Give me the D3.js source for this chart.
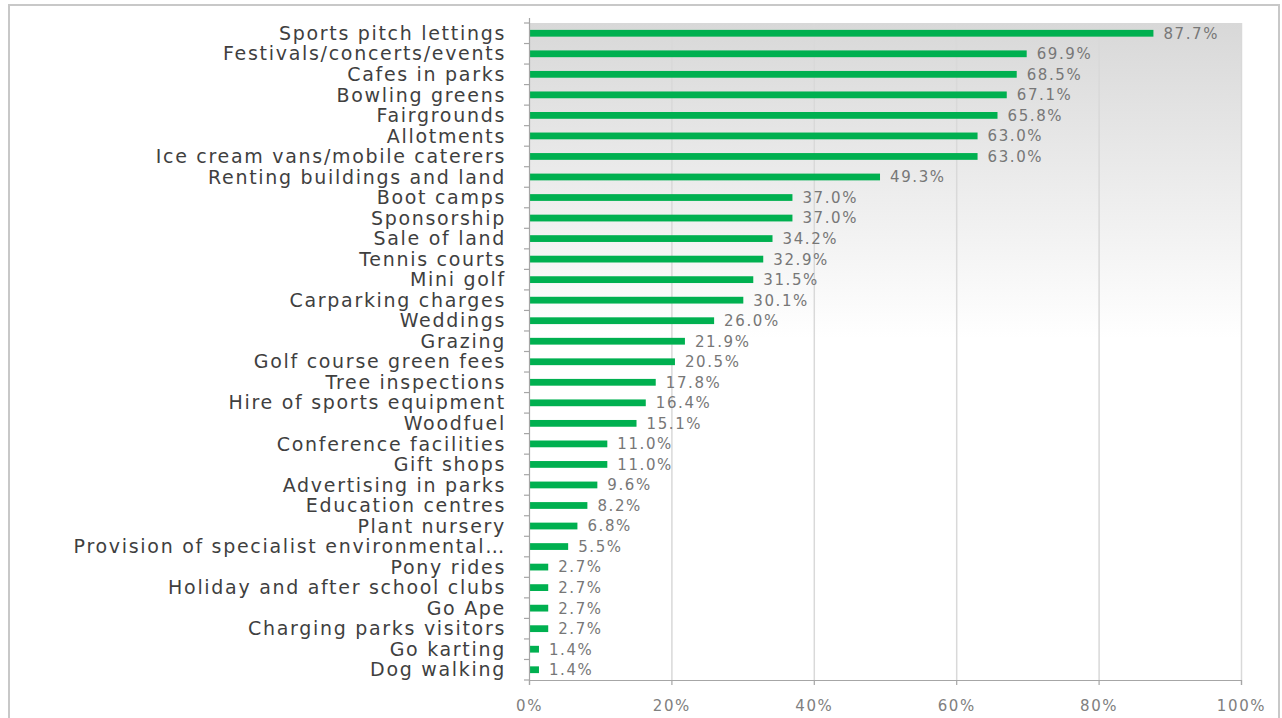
<!DOCTYPE html>
<html><head><meta charset="utf-8">
<script src="https://cdn.jsdelivr.net/npm/d3@7"></script>
<style>html,body{margin:0;padding:0;background:#fff;}svg{display:block;}</style>
</head><body>
<svg id="chart" width="1282" height="718"></svg>
<script>
const categories = ["Sports pitch lettings","Festivals/concerts/events","Cafes in parks","Bowling greens","Fairgrounds","Allotments","Ice cream vans/mobile caterers","Renting buildings and land","Boot camps","Sponsorship","Sale of land","Tennis courts","Mini golf","Carparking charges","Weddings","Grazing","Golf course green fees","Tree inspections","Hire of sports equipment","Woodfuel","Conference facilities","Gift shops","Advertising in parks","Education centres","Plant nursery","Provision of specialist environmental…","Pony rides","Holiday and after school clubs","Go Ape","Charging parks visitors","Go karting","Dog walking"];
const values = [87.7,69.9,68.5,67.1,65.8,63.0,63.0,49.3,37.0,37.0,34.2,32.9,31.5,30.1,26.0,21.9,20.5,17.8,16.4,15.1,11.0,11.0,9.6,8.2,6.8,5.5,2.7,2.7,2.7,2.7,1.4,1.4];
const xTicks = [0,20,40,60,80,100];

const svg = d3.select("#chart");
const m = {left: 529, right: 1241, top: 23, bottom: 680};

// outer border
svg.append("rect").attr("x",9).attr("y",5).attr("width",1270).attr("height",730)
  .attr("fill","#fff").attr("stroke","#c8c8c8").attr("stroke-width",2);

const defs = svg.append("defs");
const grad = defs.append("linearGradient").attr("id","bg").attr("x1",0).attr("y1",0).attr("x2",0).attr("y2",1);
grad.append("stop").attr("offset","0%").attr("stop-color","#d8d8d8");
grad.append("stop").attr("offset","48%").attr("stop-color","#ffffff");
grad.append("stop").attr("offset","100%").attr("stop-color","#ffffff");

const x = d3.scaleLinear().domain([0,100]).range([m.left, m.right]);
const y = d3.scaleBand().domain(categories).range([m.top, m.bottom]).paddingInner(0.67).paddingOuter(0.335);

svg.append("rect").attr("x",m.left).attr("y",m.top).attr("width",m.right-m.left).attr("height",m.bottom-m.top)
  .attr("fill","url(#bg)");

// gridlines
svg.append("g").selectAll("line").data(xTicks.slice(1)).join("line")
  .attr("x1",d=>x(d)+0.5).attr("x2",d=>x(d)+0.5).attr("y1",m.top).attr("y2",m.bottom)
  .attr("stroke","#d9d9d9").attr("stroke-width",1.5);

// bars
svg.append("g").selectAll("rect").data(values).join("rect")
  .attr("x",x(0)).attr("y",(d,i)=>y(categories[i]))
  .attr("width",d=>x(d)-x(0)).attr("height",y.bandwidth())
  .attr("fill","#00b050");

// value labels
svg.append("g").selectAll("text").data(values).join("text")
  .attr("x",d=>x(d)+10).attr("y",(d,i)=>y(categories[i])+y.bandwidth()/2)
  .attr("dy","0.36em")
  .attr("font-family","DejaVu Sans").attr("font-size",15).attr("letter-spacing","1.6px")
  .attr("fill","#777777").text(d=>d.toFixed(1)+"%");

// y axis
const yAxisG = svg.append("g");
yAxisG.append("line").attr("x1",m.left+0.5).attr("x2",m.left+0.5).attr("y1",m.top-5).attr("y2",m.bottom)
  .attr("stroke","#a6a6a6").attr("stroke-width",1.2);
const boundaries = d3.range(categories.length+1).map(i=>m.top + i*(m.bottom-m.top)/categories.length);
yAxisG.selectAll("line.tk").data(boundaries).join("line").attr("class","tk")
  .attr("x1",m.left-5).attr("x2",m.left).attr("y1",d=>d).attr("y2",d=>d)
  .attr("stroke","#a6a6a6").attr("stroke-width",1.2);
yAxisG.selectAll("text").data(categories).join("text")
  .attr("x",m.left-23).attr("y",d=>y(d)+y.bandwidth()/2).attr("dy","0.35em")
  .attr("text-anchor","end")
  .attr("font-family","DejaVu Sans").attr("font-size",19).attr("letter-spacing","1.7px")
  .attr("fill","#3f3f3f").text(d=>d);

// x axis
const xAxis = d3.axisBottom(x).tickValues(xTicks).tickSize(5).tickFormat(d=>d+"%");
const xg = svg.append("g").attr("transform",`translate(0,${m.bottom})`).call(xAxis);
xg.select(".domain").attr("stroke","#a6a6a6").attr("stroke-width",1.2);
xg.selectAll(".tick line").attr("stroke","#a6a6a6").attr("stroke-width",1.2);
xg.selectAll(".tick text").attr("font-family","DejaVu Sans").attr("font-size",15)
  .attr("letter-spacing","1.6px").attr("fill","#808080").attr("dy","1.55em");
</script>
</body></html>
